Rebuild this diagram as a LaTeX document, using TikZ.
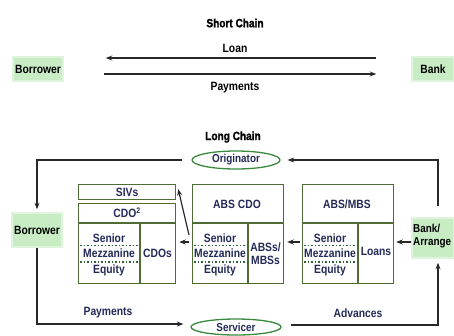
\documentclass[tikz,border=0pt]{standalone}
\usepackage{fontspec}
\setmainfont{Liberation Sans}[FakeStretch=0.86]
\newfontfamily\heavyfont{Liberation Sans}[FakeStretch=0.84, FakeBold=1.2]
\usetikzlibrary{arrows.meta,shapes.geometric,calc}
\definecolor{navy}{RGB}{36,42,88}
\definecolor{boxgreen}{RGB}{78,108,52}
\definecolor{lightgreen}{RGB}{200,236,196}
\definecolor{ellgreen}{RGB}{58,138,62}
\definecolor{dotgreen}{RGB}{52,96,60}
\definecolor{arrowgray}{RGB}{40,40,40}
\tikzset{
  lbl/.style={font=\fontsize{12}{13}\selectfont\bfseries, inner sep=0pt},
  ttl/.style={font=\fontsize{12}{13}\selectfont\heavyfont\bfseries, inner sep=0pt, text=black},
  boxtxt/.style={lbl, text=navy, align=center},
  party/.style={rectangle, fill=lightgreen, draw=lightgreen!60, line width=1.5pt, font=\fontsize{12}{13}\selectfont\bfseries, text=black, inner sep=1pt},
  secbox/.style={rectangle, draw=boxgreen, line width=1.2pt, fill=white, anchor=north west, inner sep=0pt},
  oval/.style={ellipse, draw=ellgreen, line width=1.3pt, fill=white, inner sep=0pt, font=\fontsize{11.5}{12}\selectfont\bfseries, text=navy},
  arr/.style={draw=arrowgray, line width=1.2pt, -{Stealth[length=6.5pt,width=5pt]}},
  tranche/.style={draw=dotgreen, line width=1.6pt, dash pattern=on 1.6pt off 1.9pt}
}
\begin{document}
\begin{tikzpicture}[x=1pt,y=-1pt]
\useasboundingbox (0,0) rectangle (454,335);

% ---------- Short chain ----------
\node[ttl] (tS) at (235,23) {Short Chain};
\node[party, minimum width=50, minimum height=24] (borS) at (38,69) {Borrower};
\node[party, minimum width=42, minimum height=24] (bankS) at (433,69) {Bank};
\node[lbl, text=black] (loan) at (235,48) {Loan};
\node[lbl, text=black] (payS) at (235,88) {Payments};
\draw[arr, shorten <=35pt, shorten >=42pt] ([yshift=11pt]bankS.west) -- ([yshift=11pt]borS.east);
\draw[arr, shorten <=40pt, shorten >=35pt] ([yshift=-5pt]borS.east) -- ([yshift=-5pt]bankS.west);

% ---------- Long chain ----------
\node[ttl] (tL) at (233,137) {Long Chain};
\node[oval, minimum width=88, minimum height=18] (orig) at (236,160) {Originator};
\node[oval, minimum width=90, minimum height=16] (serv) at (236,327) {Servicer};
\node[party, minimum width=50, minimum height=34] (borL) at (37,230) {Borrower};
\node[party, minimum width=42, minimum height=40] (bankL) at (433,238) {};
\node[lbl, text=black, anchor=west, align=left, font=\fontsize{11.5}{12.5}\selectfont\bfseries] (bankLt) at (413,236) {Bank/\\Arrange};

% CDO^2 group
\node[secbox, minimum width=97, minimum height=15] (sivs) at (78,184) {};
\node[boxtxt] (sivst) at (sivs.center) {SIVs};
\node[secbox, minimum width=97, minimum height=80] (cdo2) at (78,203) {};
\draw[boxgreen, line width=1.2pt] (78,223) -- (175,223) (140,223) -- (140,283);
\node[boxtxt] (cdo2t) at (127,213) {CDO\textsuperscript{2}};
\node[boxtxt] (s1) at (109,238) {Senior};
\node[boxtxt] (m1) at (109,253.5) {Mezzanine};
\node[boxtxt] (e1) at (109,270) {Equity};
\node[boxtxt] (c1) at (157.5,253) {CDOs};
\draw[tranche] (80,245.5) -- (139,245.5) (80,262) -- (139,262);

% ABS CDO group
\node[secbox, minimum width=91, minimum height=99] (abscdo) at (192,184) {};
\draw[boxgreen, line width=1.2pt] (192,223) -- (283,223) (248,223) -- (248,283);
\node[boxtxt] (abscdot) at (237,204) {ABS CDO};
\node[boxtxt] (s2) at (220,238) {Senior};
\node[boxtxt] (m2) at (220,253.5) {Mezzanine};
\node[boxtxt] (e2) at (220,270) {Equity};
\node[boxtxt] (c2) at (265.5,254) {ABSs/\\MBSs};
\draw[tranche] (194,245.5) -- (247,245.5) (194,262) -- (247,262);

% ABS/MBS group
\node[secbox, minimum width=91, minimum height=99] (absmbs) at (302,184) {};
\draw[boxgreen, line width=1.2pt] (302,223) -- (393,223) (358,223) -- (358,283);
\node[boxtxt] (absmbst) at (347,204) {ABS/MBS};
\node[boxtxt] (s3) at (330,238) {Senior};
\node[boxtxt] (m3) at (330,253.5) {Mezzanine};
\node[boxtxt] (e3) at (330,270) {Equity};
\node[boxtxt] (c3) at (376,251) {Loans};
\draw[tranche] (304,245.5) -- (357,245.5) (304,262) -- (357,262);

% flows between boxes
\coordinate (row) at (0,242);
\draw[arr, shorten >=2pt] (bankL.west |- row) -- (absmbs.east |- row);
\draw[arr, shorten <=2pt, shorten >=3pt] (absmbs.west |- row) -- (abscdo.east |- row);
\draw[arr, shorten <=3pt, shorten >=3pt] (abscdo.west |- row) -- (cdo2.east |- row);
\coordinate (dstart) at (189,235);
\draw[arr] (dstart) -- ([xshift=2pt,yshift=3pt]sivs.east);

% outer loop
\draw[arr, shorten <=11pt, shorten >=7pt] ([xshift=5pt]bankL.north) |- (orig.east);
\draw[arr, shorten <=9pt, shorten >=3pt] (orig.west) -| (borL.north);
\draw[arr, shorten >=7pt] (borL.south) |- ([yshift=3pt]serv.west);
\draw[arr, shorten <=9pt, shorten >=4pt] ([yshift=2pt]serv.east) -| ([xshift=5pt]bankL.south);
\node[lbl, text=navy] (payL) at (108,313) {Payments};
\node[lbl, text=navy] (adv) at (358,313) {Advances};
\end{tikzpicture}
\end{document}
